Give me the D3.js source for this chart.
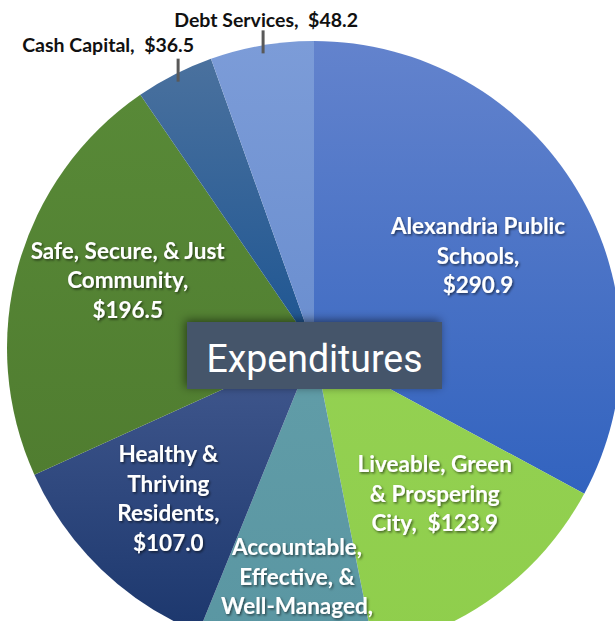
<!DOCTYPE html>
<html>
<head>
<meta charset="utf-8">
<script src="https://cdn.jsdelivr.net/npm/d3@7"></script>
<style>
  html, body { margin: 0; padding: 0; background: #fff; overflow: hidden; }
  svg { display: block; }
</style>
</head>
<body>
<div id="chart"></div>
<script>
// Expenditures by focus area (millions).
var categories = [
  'Alexandria Public Schools',
  'Liveable, Green & Prospering City',
  'Accountable, Effective, & Well-Managed Government',
  'Healthy & Thriving Residents',
  'Safe, Secure, & Just Community',
  'Cash Capital',
  'Debt Services'
];
var values = [290.9, 123.9, 82.0, 107.0, 196.5, 36.5, 48.2];

// Label lines as printed on the chart.
var labelLines = [
  ['Alexandria Public', 'Schools,', '$290.9'],
  ['Liveable, Green', '& Prospering', 'City,  $123.9'],
  ['Accountable,', 'Effective, &', 'Well-Managed,', 'Government,', '$82.0'],
  ['Healthy &', 'Thriving', 'Residents,', '$107.0'],
  ['Safe, Secure, & Just', 'Community,', '$196.5'],
  ['Cash Capital,  $36.5'],
  ['Debt Services,  $48.2']
];
var title = 'Expenditures';

// Styles: gradient top / bottom colour per slice.
var colors = [
  ['#6383cd', '#3263bf'],
  ['#94d152', '#8fce4c'],
  ['#619da8', '#5a96a2'],
  ['#42598f', '#1c376d'],
  ['#588937', '#507d30'],
  ['#4a719e', '#1d5592'],
  ['#7c9cd8', '#6a8ecf']
];
// Inside label placement: fraction of the radius and angle nudge (degrees).
var labelRadius = [0.611, 0.619, 0.846, 0.685, 0.645];
var labelNudge = [1.8, -3, -1.65, 0, 4.2];
// Outside label offsets from the leader point.
var outsideDx = [-70, 3];
var outsideDy = [-30, -26];

var width = 615, height = 621;
var cx = 314, cy = 348, radius = 307;

var svg = d3.select('#chart').append('svg')
  .attr('width', width)
  .attr('height', height);

var defs = svg.append('defs');

colors.forEach(function(c, i) {
  var g = defs.append('linearGradient')
    .attr('id', 'grad' + i)
    .attr('x1', 0).attr('y1', 0).attr('x2', 0).attr('y2', 1);
  g.append('stop').attr('offset', '0%').attr('stop-color', c[0]);
  g.append('stop').attr('offset', '100%').attr('stop-color', c[1]);
});

var textShadow = defs.append('filter').attr('id', 'tshadow')
  .attr('x', '-10%').attr('y', '-20%').attr('width', '130%').attr('height', '150%');
textShadow.append('feDropShadow')
  .attr('dx', 1.3).attr('dy', 1.5).attr('stdDeviation', 0.9)
  .attr('flood-color', '#000').attr('flood-opacity', 0.55);

var boxShadow = defs.append('filter').attr('id', 'bshadow')
  .attr('x', '-20%').attr('y', '-40%').attr('width', '140%').attr('height', '180%');
boxShadow.append('feDropShadow')
  .attr('dx', -2).attr('dy', -2).attr('stdDeviation', 5)
  .attr('flood-color', '#000').attr('flood-opacity', 0.5);

var pie = d3.pie().sort(null).value(function(d) { return d; });
var arcs = pie(values);

var arc = d3.arc().innerRadius(0).outerRadius(radius);

var chart = svg.append('g')
  .attr('transform', 'translate(' + cx + ',' + cy + ')');

chart.selectAll('path.slice')
  .data(arcs)
  .enter().append('path')
  .attr('class', 'slice')
  .attr('d', arc)
  .attr('fill', function(d, i) { return 'url(#grad' + i + ')'; });

// Inside labels (white with shadow).
var lineH = 29.5;
arcs.slice(0, 5).forEach(function(d, i) {
  var mid = (d.startAngle + d.endAngle) / 2 + labelNudge[i] * Math.PI / 180;
  var r = radius * labelRadius[i];
  var x = Math.sin(mid) * r;
  var y = -Math.cos(mid) * r;
  var lines = labelLines[i];
  var t = chart.append('text')
    .attr('xml:space', 'preserve')
    .attr('text-anchor', 'middle')
    .attr('font-family', 'Lato, "Open Sans", sans-serif')
    .attr('font-weight', 700)
    .attr('font-size', 22.5)
    .attr('fill', '#fff')
    .attr('filter', 'url(#tshadow)');
  lines.forEach(function(l, j) {
    t.append('tspan')
      .attr('x', x)
      .attr('y', y + (j - (lines.length - 1) / 2) * lineH + 7)
      .text(l);
  });
});

// Outside labels with short leader lines.
arcs.slice(5).forEach(function(d, k) {
  var i = k + 5;
  var mid = (d.startAngle + d.endAngle) / 2;
  var r = radius - 8;
  var x = Math.sin(mid) * r;
  var y = -Math.cos(mid) * r;
  chart.append('line')
    .attr('x1', x).attr('y1', y)
    .attr('x2', x).attr('y2', y - 23)
    .attr('stroke', '#595959')
    .attr('stroke-width', 3);
  chart.append('text')
    .attr('xml:space', 'preserve')
    .attr('x', x + outsideDx[k])
    .attr('y', y + outsideDy[k])
    .attr('text-anchor', 'middle')
    .attr('font-family', 'Lato, "Open Sans", sans-serif')
    .attr('font-weight', 700)
    .attr('font-size', 19.5)
    .attr('fill', '#111')
    .text(labelLines[i][0]);
});

// Title box in the middle.
var box = svg.append('g').attr('transform', 'translate(187,322)');
box.append('rect')
  .attr('width', 255)
  .attr('height', 67)
  .attr('fill', '#44546a')
  .attr('filter', 'url(#bshadow)');
box.append('text')
  .attr('x', 127.5)
  .attr('y', 50)
  .attr('text-anchor', 'middle')
  .attr('font-family', 'Roboto, "Open Sans", sans-serif')
  .attr('font-size', 38)
  .attr('fill', '#fff')
  .attr('textLength', 216)
  .attr('lengthAdjust', 'spacingAndGlyphs')
  .text(title);
</script>
</body>
</html>
